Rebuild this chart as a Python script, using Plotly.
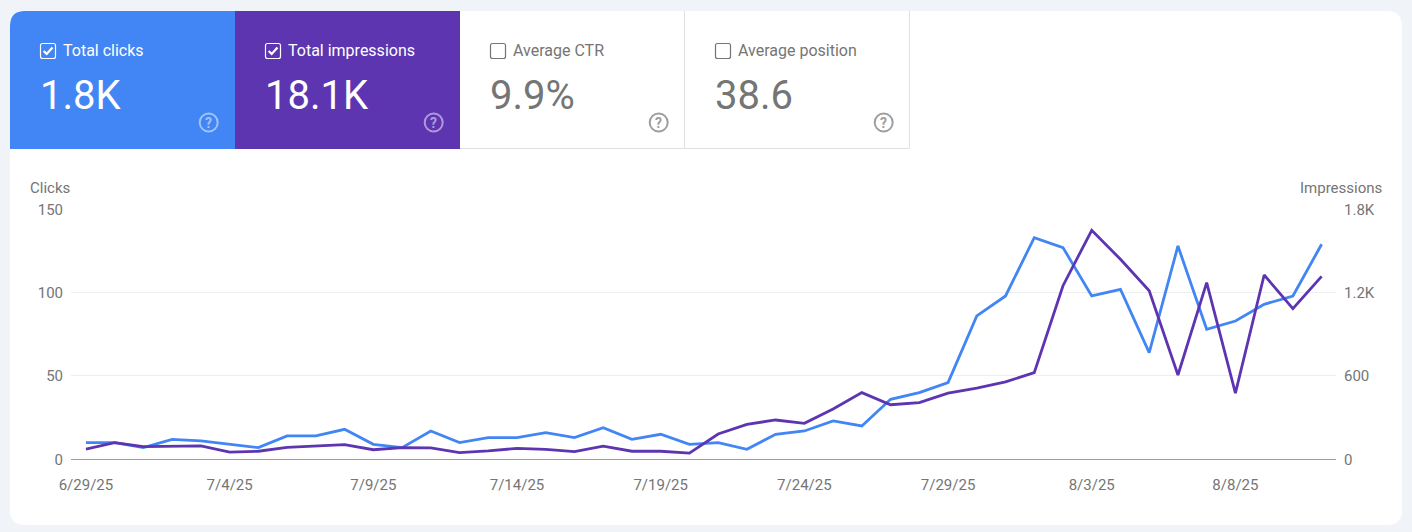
import plotly.graph_objects as go

W, H = 1412, 532

dates = ["6/29/25", "6/30/25", "7/1/25", "7/2/25", "7/3/25", "7/4/25", "7/5/25", "7/6/25", "7/7/25", "7/8/25",
         "7/9/25", "7/10/25", "7/11/25", "7/12/25", "7/13/25", "7/14/25", "7/15/25", "7/16/25", "7/17/25", "7/18/25",
         "7/19/25", "7/20/25", "7/21/25", "7/22/25", "7/23/25", "7/24/25", "7/25/25", "7/26/25", "7/27/25", "7/28/25",
         "7/29/25", "7/30/25", "7/31/25", "8/1/25", "8/2/25", "8/3/25", "8/4/25", "8/5/25", "8/6/25", "8/7/25",
         "8/8/25", "8/9/25", "8/10/25", "8/11/25"]
clicks = [10, 10, 7, 12, 11, 9, 7, 14, 14, 18,
          9, 7, 17, 10, 13, 13, 16, 13, 19, 12,
          15, 9, 10, 6, 15, 17, 23, 20, 36, 40,
          46, 86, 98, 133, 127, 98, 102, 64, 128, 78,
          83, 93, 98, 129]
impressions = [74, 120, 91, 96, 96, 52, 58, 86, 96, 105,
               69, 84, 82, 48, 60, 79, 72, 55, 94, 58,
               58, 45, 182, 252, 283, 259, 362, 480, 393, 408,
               477, 513, 557, 624, 1250, 1649, 1440, 1214, 607, 1272,
               477, 1327, 1084, 1317]

clicks_ticks = [0, 50, 100, 150]
impr_ticks = [0, 600, 1200, 1800]
impr_labels = ["0", "600", "1.2K", "1.8K"]

card_labels = ["Total clicks", "Total impressions", "Average CTR", "Average position"]
card_values = ["1.8K", "18.1K", "9.9%", "38.6"]
card_checked = [True, True, False, False]
card_fills = ["#4285f4", "#5e35b1", "#ffffff", "#ffffff"]

BG = "#f0f4f9"
TEXT = "#757575"
GRID = "#eeeeee"
FONT = "Roboto"


# everything below the data is placed in screen pixels, so convert to paper coords
def px(x):
    return x / W


def py(y):
    return 1 - y / H


def rounded_path(x0, y0, x1, y1, tl=0, tr=0, br=0, bl=0):
    return (f"M {px(x0 + tl)} {py(y0)} L {px(x1 - tr)} {py(y0)} "
            f"Q {px(x1)} {py(y0)} {px(x1)} {py(y0 + tr)} L {px(x1)} {py(y1 - br)} "
            f"Q {px(x1)} {py(y1)} {px(x1 - br)} {py(y1)} L {px(x0 + bl)} {py(y1)} "
            f"Q {px(x0)} {py(y1)} {px(x0)} {py(y1 - bl)} L {px(x0)} {py(y0 + tl)} "
            f"Q {px(x0)} {py(y0)} {px(x0 + tl)} {py(y0)} Z")


def label(x, y, text, size, color, anchor="left", weight=400):
    return dict(xref="paper", yref="paper", x=px(x), y=py(y), text=text, showarrow=False,
                xanchor=anchor, yanchor="middle", borderpad=0, borderwidth=0,
                font=dict(family=FONT, size=size, color=color, weight=weight))


shapes = [dict(type="path", xref="paper", yref="paper", layer="below", line_width=0, fillcolor="#ffffff",
               path=rounded_path(10, 11, 1402, 525, tl=15, tr=15, br=15, bl=15))]
annotations = []

for i, name in enumerate(card_labels):
    left = 10 + 225 * i
    right = left + 225
    if i < 2:
        fg = "#ffffff"
        help_col = "rgba(255,255,255,0.5)"
        shapes.append(dict(type="path", xref="paper", yref="paper", layer="below", line_width=0,
                           fillcolor=card_fills[i],
                           path=rounded_path(left, 11, right, 149, tl=15 if i == 0 else 0)))
    else:
        fg = TEXT
        help_col = "#9e9e9e"
        # only bottom and right edges, the top sits flush with the panel
        shapes.append(dict(type="path", xref="paper", yref="paper", layer="below",
                           line=dict(color="#e0e0e0", width=1),
                           path=f"M {px(left)} {py(148.5)} L {px(right - 0.5)} {py(148.5)} L {px(right - 0.5)} {py(11)}"))

    # checkbox
    bx = left + 30.5
    shapes.append(dict(type="path", xref="paper", yref="paper", line=dict(color=fg, width=1.2),
                       path=rounded_path(bx, 43.5, bx + 15, 58.5, tl=2, tr=2, br=2, bl=2)))
    if card_checked[i]:
        shapes.append(dict(type="path", xref="paper", yref="paper", line=dict(color=fg, width=2.2),
                           path=f"M {px(bx + 3.2)} {py(51)} L {px(bx + 6.2)} {py(54)} L {px(bx + 12)} {py(47.5)}"))

    annotations.append(label(left + 53, 50.5, name, 16, fg))
    annotations.append(label(left + 30, 95, card_values[i], 40, fg))

    # help icon
    cx = left + 198.7
    shapes.append(dict(type="circle", xref="paper", yref="paper", line=dict(color=help_col, width=2),
                       x0=px(cx - 9), x1=px(cx + 9), y0=py(131.5), y1=py(113.5)))
    annotations.append(label(cx, 122.5, "?", 14, help_col, anchor="center", weight=700))

annotations.append(label(30, 188, "Clicks", 15, TEXT))
annotations.append(label(1382, 188, "Impressions", 15, TEXT, anchor="right"))

fig = go.Figure()
fig.add_trace(go.Scatter(x=dates, y=clicks, mode="lines", name="Clicks", yaxis="y", hoverinfo="skip",
                         line=dict(color="#4285f4", width=2.8), cliponaxis=False))
fig.add_trace(go.Scatter(x=dates, y=impressions, mode="lines", name="Impressions", yaxis="y2", hoverinfo="skip",
                         line=dict(color="#5e35b1", width=2.8), cliponaxis=False))

fig.update_layout(
    width=W, height=H,
    margin=dict(l=0, r=0, t=0, b=0, pad=0),
    paper_bgcolor=BG,
    plot_bgcolor="rgba(0,0,0,0)",
    showlegend=False,
    font=dict(family=FONT, size=15, color=TEXT),
    shapes=shapes,
    annotations=annotations,
    xaxis=dict(domain=[px(71), px(1336)], type="category", categoryorder="array", categoryarray=dates,
               range=[-0.52, 43.5], tickvals=dates[::5], ticktext=dates[::5], showgrid=False, zeroline=False,
               showline=False, ticks="", ticklabelstandoff=15, tickfont=dict(family=FONT, size=15, color=TEXT),
               anchor="y", automargin=False),
    yaxis=dict(domain=[py(459.3), py(209.3)], range=[0, 150], tickvals=clicks_ticks, showgrid=True,
               gridcolor=GRID, gridwidth=1, zeroline=True, zerolinecolor="#9e9e9e", zerolinewidth=1,
               ticks="", ticklabelstandoff=7, tickfont=dict(family=FONT, size=15, color=TEXT), anchor="x",
               automargin=False),
    yaxis2=dict(domain=[py(459.3), py(209.3)], range=[0, 1800], tickvals=impr_ticks, ticktext=impr_labels,
                overlaying="y", side="right", showgrid=False, zeroline=False, ticks="", ticklabelstandoff=7,
                tickfont=dict(family=FONT, size=15, color=TEXT), anchor="x", automargin=False),
)

fig.write_html("out.html", config=dict(displayModeBar=False), post_script="document.body.style.margin='0';")
